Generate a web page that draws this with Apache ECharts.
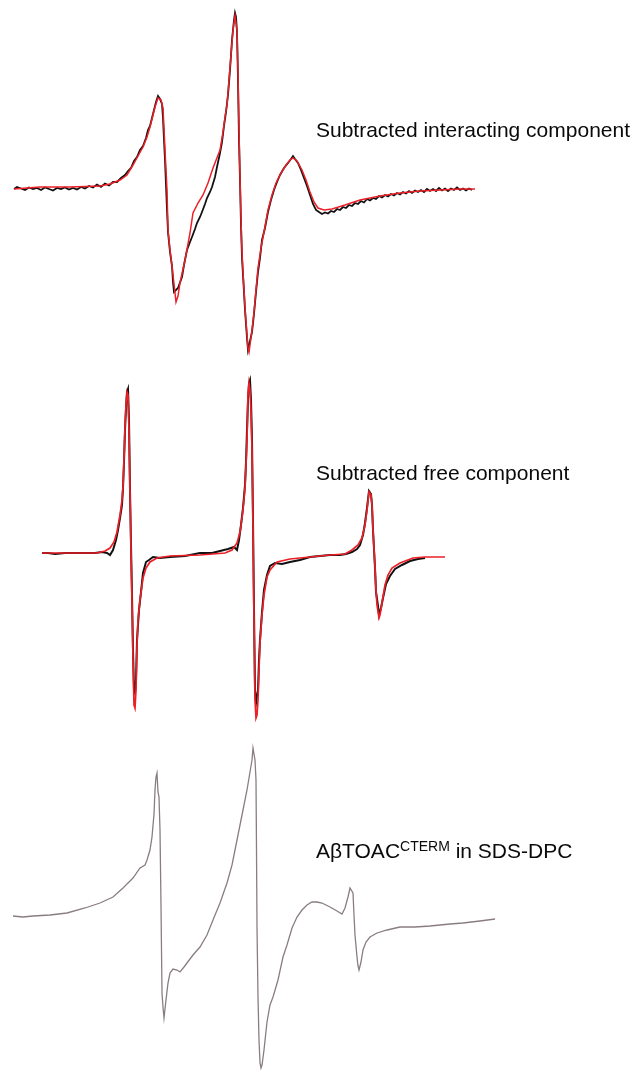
<!DOCTYPE html>
<html>
<head>
<meta charset="utf-8">
<script src="https://cdn.jsdelivr.net/npm/echarts@6/dist/echarts.min.js"></script>
<style>
  html, body { margin: 0; padding: 0; background: #ffffff; }
  #chart { width: 636px; height: 1075px; }
</style>
</head>
<body>
<div id="chart"></div>
<script>
// EPR spectra: [field offset (G), derivative signal (a.u.)]

// Panel 1: subtracted interacting component (experimental trace + fit)
const interactingExp = [
  [0.2,-0.1],[0.8,0.1],[1.6,-0.05],[2.4,-0.2],[3.2,0.05],[4,-0.1],[4.8,0],[5.6,-0.2],[6.4,0.05],[7.2,-0.1],
  [8,-0.25],[8.8,0],[9.6,-0.1],[10.4,0.05],[11.2,-0.15],[12,0],[12.8,-0.15],[13.6,0.1],[14.4,-0.05],[15.2,0.2],
  [16,0.05],[16.8,0.35],[17.6,0.1],[18.4,0.45],[19.2,0.25],[20,0.6],[20.8,0.6],[21.6,1.0],[22.4,1.3],[23,1.7],
  [23.6,2],[24.2,2.7],[24.8,3.1],[25.4,3.8],[26,4.2],[26.6,5],[27,5.8],[27.4,6.2],[27.8,7],[28.2,7.8],
  [28.6,8.6],[29,9.2],[29.4,8.9],[29.8,8.4],[30,7],[30.2,4.8],[30.4,2.8],[30.6,0.3],[30.8,-2.2],[31,-4.4],
  [31.4,-6.4],[31.8,-7.8],[32,-9.4],[32.2,-10.4],[32.6,-10.5],[33,-10],[33.4,-9.9],[33.8,-8.9],[34.2,-7.7],
  [34.8,-6.2],[35.4,-5.4],[35.8,-4.9],[36.4,-4.1],[36.8,-3.5],[37.4,-2.9],[37.8,-2.4],[38.4,-1.6],[38.8,-1],
  [39.4,-0.4],[39.8,0.1],[40.4,1.1],[40.8,2.1],[41.4,3.5],[41.8,4.6],[42.2,6.2],[42.6,7.6],[43,9.3],[43.4,11.8],
  [43.8,14.8],[44.2,16.8],[44.4,17.5],[44.6,17.1],[44.8,15.6],[45,10.8],[45.2,4.8],[45.4,0.8],[45.6,-3.7],
  [45.8,-7],[46.2,-10.4],[46.4,-12.2],[46.8,-15],[47,-16.2],[47.4,-16],[47.8,-14.4],[48.2,-12.6],[48.6,-10.4],
  [49,-8.4],[49.4,-7],[49.8,-5.2],[50.4,-4],[51,-2.4],[51.6,-1.2],[52.2,-0.2],[52.8,0.6],[53.4,1.3],[54.2,2],
  [55,2.5],[55.6,2.9],[56,3.2],[56.4,2.9],[57,2.5],[57.6,1.8],[58.2,1],[58.8,0.2],[59.4,-0.7],[60,-1.6],
  [60.6,-2.2],[61.2,-2.4],[61.8,-2.6],[62.4,-2.45],[63,-2.55],[63.6,-2.3],[64.2,-2.4],[64.8,-2.1],[65.4,-2.2],
  [66,-1.9],[66.6,-2.0],[67.2,-1.7],[67.8,-1.8],[68.4,-1.5],[69,-1.6],[69.6,-1.3],[70.2,-1.45],[70.8,-1.1],
  [71.4,-1.25],[72,-1.0],[72.6,-1.1],[73.2,-0.8],[73.8,-0.95],[74.4,-0.7],[75,-0.85],[75.6,-0.6],[76.2,-0.75],
  [76.8,-0.5],[77.4,-0.65],[78,-0.4],[78.6,-0.55],[79.2,-0.3],[79.8,-0.5],[80.4,-0.25],[81,-0.4],[81.6,-0.2],
  [82.2,-0.4],[82.8,-0.1],[83.4,-0.3],[84,-0.1],[84.6,-0.3],[85.2,0],[85.8,-0.25],[86.4,-0.05],[87,-0.3],
  [87.6,-0.05],[88.2,-0.2],[88.8,0.05],[89.4,-0.2],[90,-0.05],[90.6,-0.25],[91.2,-0.05],[91.8,-0.2]
];
const interactingFit = [
  [0.2,-0.1],[5.4,0.1],[11.4,0.1],[17.4,0.2],[19.4,0.4],[21.4,0.8],[22.8,1.3],[24,2.3],[25,3.2],[26,4.1],
  [26.8,5.1],[27.4,6.1],[28,7.3],[28.4,8.1],[29,9],[29.6,8.8],[30,8],[30.4,3.8],[30.8,-0.2],[31,-4.2],
  [31.4,-6.2],[31.8,-7.8],[32.2,-9.6],[32.6,-11.4],[33,-10.8],[33.4,-9.5],[34.4,-7.2],[35,-5.6],[35.4,-4.5],
  [36,-2.5],[37,-1.5],[38,-0.7],[39,0.5],[40,2],[41.4,3.8],[42,5.6],[42.4,7.1],[42.8,8.3],[43.2,10.8],
  [43.6,13.3],[44,15.8],[44.4,17.2],[44.6,17],[44.8,15.8],[45,11.3],[45.2,5.8],[45.4,1.1],[45.6,-3.2],
  [45.8,-6.5],[46.2,-10.2],[46.4,-12],[46.8,-14.7],[47,-16],[47.2,-16.4],[47.4,-15.7],[47.8,-14.2],[48.2,-12.4],
  [48.6,-10.2],[49,-8],[49.6,-6],[50.2,-4.4],[51,-2.2],[51.8,-0.7],[52.6,0.5],[53.6,1.5],[54.6,2.3],[55.4,2.8],
  [56,3],[56.8,2.7],[57.8,1.8],[58.6,0.8],[59.4,-0.4],[60.2,-1.4],[61,-2],[62.2,-2.2],[63.8,-2.1],[66.4,-1.7],
  [69.4,-1.2],[73.4,-0.8],[77.4,-0.5],[81.4,-0.3],[85.4,-0.2],[89.4,-0.1],[92.4,-0.1]
];

// Panel 2: subtracted free component (experimental trace + fit)
const freeExp = [
  [0,0],[0.4,-0.2],[1.2,0],[2.6,-0.1],[4.6,0],[7.6,0],[10.6,0],[12,0.1],[13,0],[13.6,-0.2],[14.2,0.3],
  [14.8,1.3],[15.2,2.3],[15.6,3.5],[16,4.8],[16.2,6.5],[16.4,9.1],[16.6,12.3],[16.8,14.5],[17,16.1],[17.2,16.4],
  [17.4,13.3],[17.6,6.3],[17.8,0.8],[18,-4.2],[18.2,-9.7],[18.4,-13.7],[18.6,-14],[18.8,-12.7],[19,-8.7],
  [19.4,-5.7],[19.8,-3.9],[20.2,-2],[20.8,-0.9],[21.4,-0.7],[22.2,-0.4],[23.6,-0.5],[25.6,-0.4],[28.6,-0.3],
  [31.6,0],[34,0],[35.6,0.2],[37.2,0.4],[38.4,0.6],[39,0.3],[39.4,1.3],[39.8,2.8],[40.2,4.5],[40.6,6.8],
  [40.8,9.1],[41,12.3],[41.2,15.3],[41.4,17],[41.6,17.3],[41.8,15.3],[42,11.3],[42.2,3.3],[42.4,-5.7],
  [42.6,-13.7],[42.8,-15],[43,-15.2],[43.2,-13.7],[43.4,-10.7],[43.6,-8.7],[44,-5.9],[44.4,-3.7],[45,-2.2],
  [45.6,-1.3],[46.6,-1],[48,-1.1],[49.6,-0.9],[51.6,-0.7],[53.6,-0.4],[55.6,-0.3],[57.6,-0.2],[59.6,-0.2],
  [60.8,-0.1],[62,0.1],[63,0.4],[63.6,0.8],[64.2,1.8],[64.6,3],[65,4.5],[65.4,6.2],[65.6,6.4],[65.8,5.9],
  [66,4.8],[66.2,2.3],[66.6,-1.5],[66.8,-3.9],[67.2,-5.3],[67.4,-6.2],[67.8,-5.5],[68.2,-4.5],[68.8,-3.1],
  [69.6,-2.3],[70.6,-1.6],[72,-1.2],[73.6,-0.8],[75.2,-0.6],[76.6,-0.5]
];
const freeFit = [
  [0,0],[5.6,0],[11,0],[12.6,0.2],[13.6,0.5],[14.4,1.1],[15,2.1],[15.6,3.8],[16,5.3],[16.2,6.6],[16.4,9.3],
  [16.6,12.6],[16.8,14.8],[17,16.1],[17.2,15.8],[17.4,12.3],[17.6,6],[17.8,0.3],[18,-4.7],[18.2,-10.7],
  [18.4,-15.2],[18.6,-15.5],[18.8,-13.7],[19,-9.2],[19.2,-6.7],[19.6,-4.7],[20.2,-2.5],[20.8,-1.5],[21.6,-0.9],
  [23,-0.5],[25.6,-0.3],[31.6,-0.2],[36.6,0],[38,0.3],[39,1],[39.6,2.1],[40,3.5],[40.4,5.3],[40.6,6.6],
  [40.8,8.8],[41,11.3],[41.2,15.8],[41.4,17],[41.6,16.3],[41.8,14.3],[42,10.3],[42.2,2.6],[42.4,-6.7],
  [42.6,-14.7],[42.8,-16.5],[43,-16.2],[43.2,-14.7],[43.4,-11.7],[43.6,-9],[44,-6.2],[44.4,-4.2],[45,-2.4],
  [45.6,-1.7],[47,-0.9],[49.6,-0.6],[53.6,-0.4],[57.6,-0.2],[60.6,-0.1],[62,0.3],[63.2,0.8],[64,1.5],[64.6,2.8],
  [65,4.3],[65.4,6.1],[65.6,6.3],[65.8,5.8],[66,4.8],[66.2,2.3],[66.6,-1.4],[66.8,-3.7],[67,-5.2],[67.4,-6.5],
  [67.6,-6.2],[68,-5],[68.6,-3.2],[69.2,-2.2],[70,-1.5],[71.6,-1],[74.2,-0.5],[76.6,-0.4],[80.6,-0.4]
];

// Panel 3: AβTOAC(CTERM) in SDS-DPC
const sdsDpc = [
  [0,0],[2,-0.1],[4,0],[7.4,0.1],[10.8,0.3],[14.4,0.8],[17.4,1.3],[20,1.9],[22,2.8],[24,3.8],
  [25.4,4.8],[26.4,5.1],[26.8,5.6],[27.4,6.6],[27.8,7.9],[28.2,10.2],[28.4,12.6],[28.6,13.9],[28.8,14.3],
  [29,12.4],[29.2,11.9],[29.4,8.6],[29.6,1],[29.8,-7.7],[30,-9.1],[30.2,-10.2],[30.6,-8.4],[31,-6.7],
  [31.4,-5.7],[32,-5.3],[32.8,-5.4],[33.4,-5.6],[34.2,-5.1],[34.8,-4.7],[36,-3.9],[37.4,-3.1],[38.8,-1.9],
  [40,-0.4],[41.4,1.3],[42.8,3.3],[43.8,5.1],[44.8,7.6],[45.8,10.1],[46.8,12.6],[47.4,14.4],
  [47.8,15.6],[48,16.8],[48.2,16.6],[48.4,15.6],[48.6,13.6],[48.7,6.6],[48.8,-1.1],[49,-8.1],[49.2,-12.4],
  [49.4,-14.7],[49.6,-15.2],[49.8,-14.9],[50.2,-13.4],[50.8,-10.6],[51.4,-8.9],[52,-8.1],[53,-6.4],[54,-4.1],
  [54.8,-2.9],[55.8,-1.2],[56.8,-0.1],[57.8,0.6],[58.8,1.1],[59.8,1.4],[60.8,1.4],[61.8,1.3],[63.4,0.9],
  [64.8,0.5],[65.8,0.2],[66.4,0.8],[67,1.9],[67.4,2.8],[67.6,3],[67.8,2.8],[68,2.3],[68.2,0.1],[68.4,-1.9],
  [68.8,-4.1],[69,-5],[69.2,-5.4],[69.6,-4.6],[70,-3.4],[70.6,-2.6],[71.4,-2.1],[72.8,-1.7],[74.8,-1.4],
  [77.4,-1.1],[80.4,-1.1],[83.4,-1],[87.4,-0.8],[90,-0.7],[93.4,-0.5],[96.4,-0.3]
];

const panelLabels = [
  'Subtracted interacting component',
  'Subtracted free component',
  '{n|AβTOAC}{s|CTERM}{n| in SDS-DPC}'
];

const FONT = '"Liberation Sans", Arial, Helvetica, sans-serif';
const RED = '#ec1f27';
const BLACK = '#111111';
const GREY = '#8a7d82';

// panel geometry (px) and axis windows (G, a.u.)
const panels = [
  { top: 0,   height: 370, x: [-2.6, 124.6], y: [-18.2, 18.8] },
  { top: 370, height: 360, x: [-8.4, 118.8], y: [-17.7, 18.3] },
  { top: 730, height: 345, x: [-2.6, 124.6], y: [-15.9, 18.6] }
];

const grid = panels.map(p => ({ left: 0, right: 0, top: p.top, height: p.height, containLabel: false }));
const xAxis = panels.map((p, i) => ({ type: 'value', gridIndex: i, min: p.x[0], max: p.x[1], show: false }));
const yAxis = panels.map((p, i) => ({ type: 'value', gridIndex: i, min: p.y[0], max: p.y[1], show: false }));

function trace(data, idx, color, width, z) {
  return {
    type: 'line', xAxisIndex: idx, yAxisIndex: idx, data: data,
    showSymbol: false, symbol: 'none', smooth: false, z: z,
    lineStyle: { color: color, width: width, join: 'miter' },
    emphasis: { disabled: true }, silent: true
  };
}

const labelTops = [119.5, 462.5, 840.5];
const title = panelLabels.map((t, i) => ({
  text: t, left: 316, top: labelTops[i], padding: 0,
  textStyle: {
    fontFamily: FONT, fontSize: 21, fontWeight: 'normal', color: '#0a0a0a', lineHeight: 24,
    rich: {
      n: { fontFamily: FONT, fontSize: 21, color: '#0a0a0a', lineHeight: 24 },
      s: { fontFamily: FONT, fontSize: 14, color: '#0a0a0a', lineHeight: 10, verticalAlign: 'top' }
    }
  }
}));

const chart = echarts.init(document.getElementById('chart'), null, { renderer: 'canvas' });
chart.setOption({
  animation: false,
  backgroundColor: '#ffffff',
  title: title,
  grid: grid,
  xAxis: xAxis,
  yAxis: yAxis,
  series: [
    trace(interactingExp, 0, BLACK, 1.8, 2),
    trace(interactingFit, 0, RED, 1.5, 3),
    trace(freeExp, 1, BLACK, 2, 2),
    trace(freeFit, 1, RED, 1.7, 3),
    trace(sdsDpc, 2, GREY, 1.3, 2)
  ]
});
</script>
</body>
</html>
